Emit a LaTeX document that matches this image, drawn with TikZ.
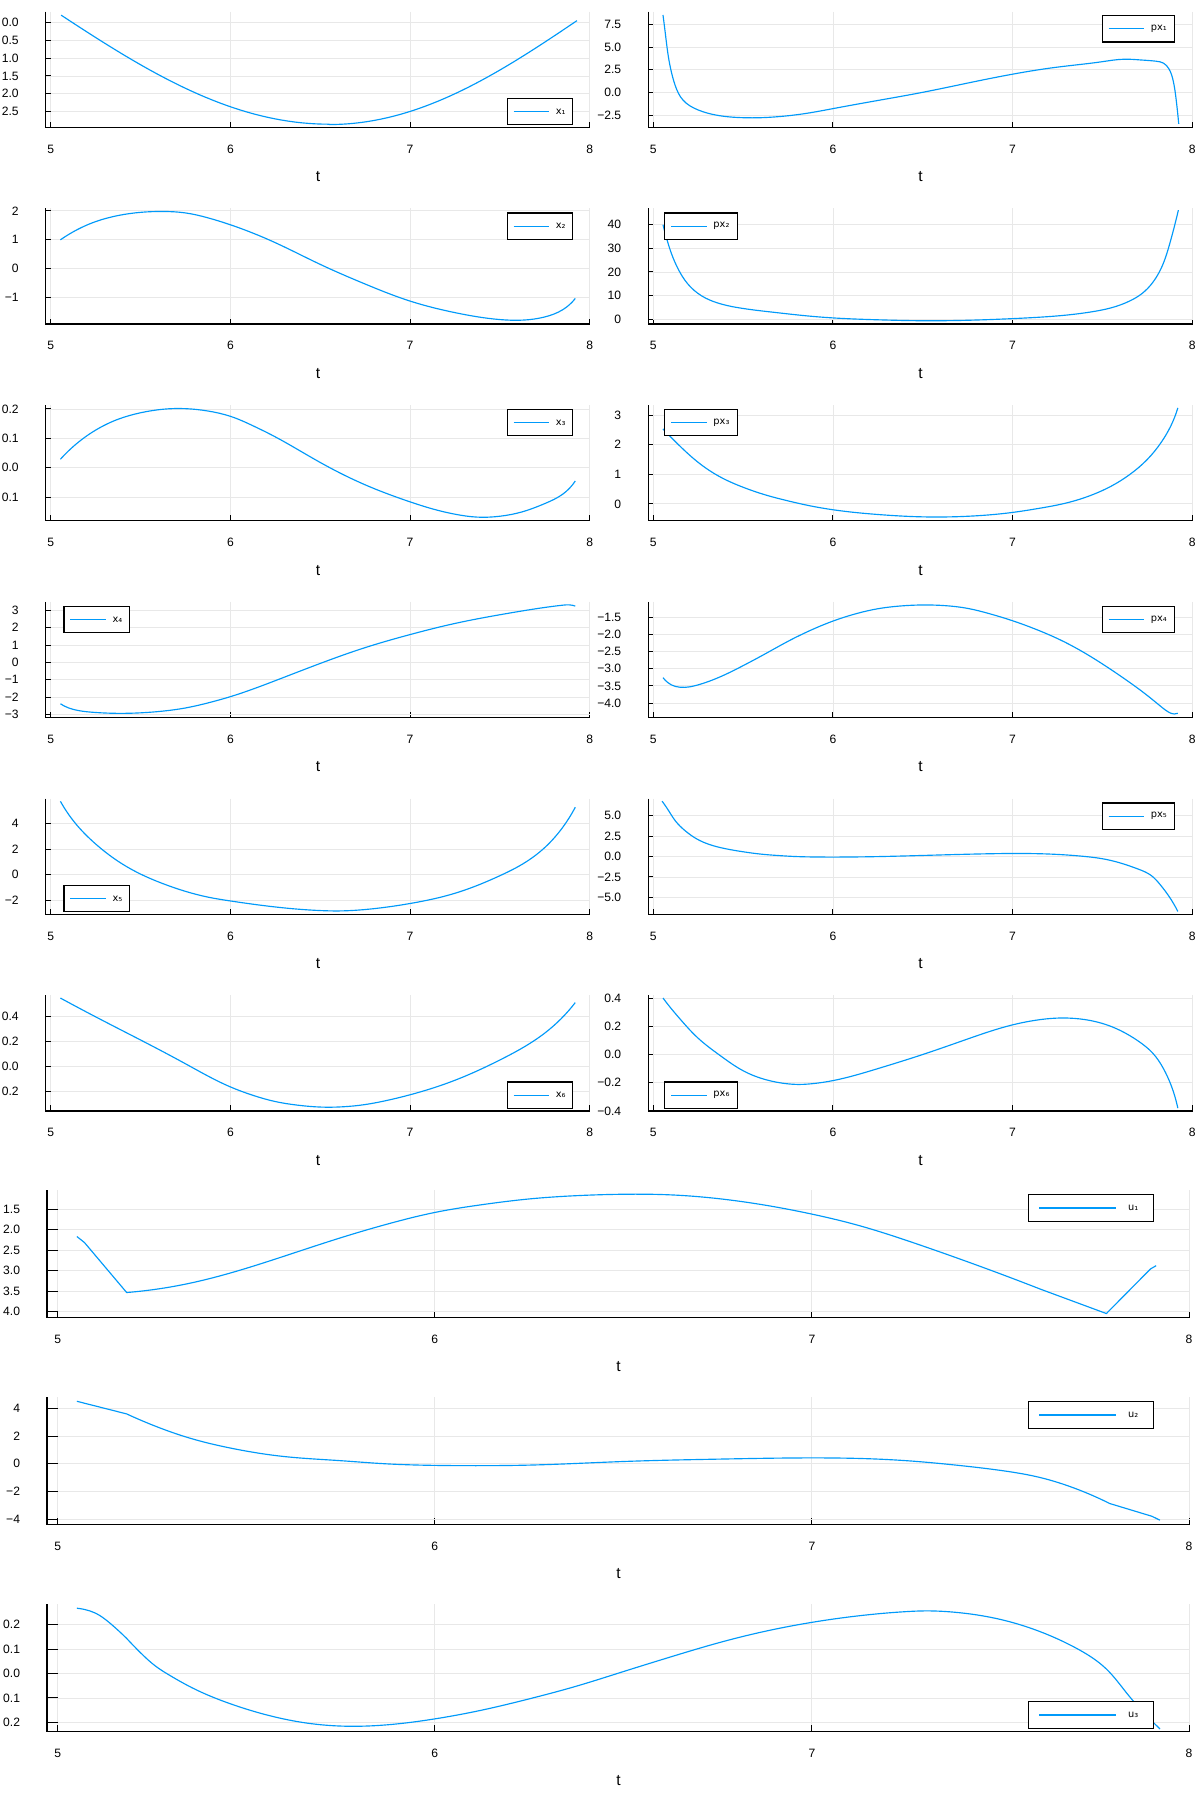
\documentclass[tikz,border=0pt]{standalone}
\usepackage{fontspec}
\setmainfont{Liberation Sans}
\newfontfamily\keyfont{DejaVu Sans}
\usetikzlibrary{hobby}
\definecolor{plotblue}{HTML}{009AFA}

\newcommand{\panel}[8]{%
  \pgfmathsetmacro\frameL{#2-0.028*#3}%
  \pgfmathsetmacro\frameR{#2+3.003*#3}%
  \pgfmathsetmacro\frameB{#4+#5}%
  \pgfmathsetmacro\ytl{0.0092*(\frameR-\frameL)}%
  \pgfmathsetmacro\xtl{0.048*#5}%
  \foreach \tx [count=\i] in {5,...,8} {
    \pgfmathsetmacro\xx{#2+(\tx-5)*#3}
    \draw[gridline] (\xx,#4) -- (\xx,\frameB);
    \draw[tickmark] (\xx,\frameB) -- ++(0,-\xtl);
    \node[ticklabel] (#1-x\i) at (\xx,{\frameB+18.8}) {\tx};
  }
  \foreach \v/\lab [count=\i] in {#8} {
    \pgfmathsetmacro\yy{#6-(\v)*#7}
    \draw[gridline] (\frameL,\yy) -- (\frameR,\yy);
    \draw[tickmark] (\frameL,\yy) -- ++(\ytl,0);
    \node[ticklabel, anchor=east] (#1-y\i) at ({\frameL-23.3},\yy) {\lab};
  }
  \draw[axisline] (\frameL,#4) -- (\frameL,\frameB) -- (\frameR,\frameB);
  \node[guide] (#1-t) at ({(\frameL+\frameR)/2},{\frameB+42.8}) {t};
}

\newcommand{\plotkey}[8]{%
  \node[keybox, minimum width=#4pt, anchor=north west] (#1) at (#2,#3) {};
  \draw[curve] ([xshift=#5pt]#1.west) -- ([xshift=#6pt]#1.west);
  \node[keytext] (#1-text) at ([xshift=#8pt]#1.west) {#7};
}

\begin{document}
\begin{tikzpicture}[x=1pt, y=-1pt,
  every node/.style={inner sep=0pt},
  curve/.style={draw=plotblue, line width=1pt, line join=round},
  gridline/.style={draw=black!9, line width=0.7pt},
  axisline/.style={draw=black, line width=1.1pt},
  tickmark/.style={draw=black, line width=0.8pt},
  ticklabel/.style={font=\fontsize{10.5}{12}\selectfont},
  guide/.style={font=\fontsize{13.5}{16}\selectfont},
  keybox/.style={draw=black, fill=white, line width=1pt, minimum height=22.8pt},
  keytext/.style={anchor=west, font=\keyfont\fontsize{8.5}{10}\selectfont},
  onaxes/.style n args={4}{shift={({#1-5*#2},#3)}, x=#2pt, y=#4pt}]

\path[fill=white, use as bounding box] (0,0) rectangle (1040,1560);

% states and costates
\panel{x1}{44}{155.77}{10.1}{100.3}{19.35}{31.0}{0/0.0, -0.5/0.5, -1/1.0, -1.5/1.5, -2/2.0, -2.5/2.5}
\panel{px1}{566.5}{155.77}{10.1}{100.3}{80.05}{7.86}{7.5/7.5, 5/5.0, 2.5/2.5, 0/0.0, -2.5/−2.5}
\panel{x2}{44}{155.77}{180.7}{100.3}{233.0}{25.06}{2/2, 1/1, 0/0, -1/−1}
\panel{px2}{566.5}{155.77}{180.7}{100.3}{276.7}{2.045}{40/40, 30/30, 20/20, 10/10, 0/0}
\panel{x3}{44}{155.77}{351.3}{100.3}{405.6}{254.9}{0.2/0.2, 0.1/0.1, 0/0.0, -0.1/0.1}
\panel{px3}{566.5}{155.77}{351.3}{100.3}{436.9}{25.67}{3/3, 2/2, 1/1, 0/0}
\panel{x4}{44}{155.77}{521.9}{100.3}{574.4}{15.08}{3/3, 2/2, 1/1, 0/0, -1/−1, -2/−2, -3/−3}
\panel{px4}{566.5}{155.77}{521.9}{100.3}{490.7}{29.73}{-1.5/−1.5, -2/−2.0, -2.5/−2.5, -3/−3.0, -3.5/−3.5, -4/−4.0}
\panel{x5}{44}{155.77}{692.5}{100.3}{758.5}{11.10}{4/4, 2/2, 0/0, -2/−2}
\panel{px5}{566.5}{155.77}{692.5}{100.3}{742.65}{7.10}{5/5.0, 2.5/2.5, 0/0.0, -2.5/−2.5, -5/−5.0}
\panel{x6}{44}{155.77}{863.1}{100.3}{924.6}{108.5}{0.4/0.4, 0.2/0.2, 0/0.0, -0.2/0.2}
\panel{px6}{566.5}{155.77}{863.1}{100.3}{914.4}{122.4}{0.4/0.4, 0.2/0.2, 0/0.0, -0.2/−0.2, -0.4/−0.4}
% controls
\panel{u1}{50}{327}{1032.1}{110.4}{995.3}{35.49}{-1.5/1.5, -2/2.0, -2.5/2.5, -3/3.0, -3.5/3.5, -4/4.0}
\panel{u2}{50}{327}{1211.6}{110.4}{1269.25}{12.03}{4/4, 2/2, 0/0, -2/−2, -4/−4}
\panel{u3}{50}{327}{1391.1}{110.4}{1451.2}{211.4}{0.2/0.2, 0.1/0.1, 0/0.0, -0.1/0.1, -0.2/0.2}

\draw[curve, onaxes={44}{155.77}{19.35}{31.0}] plot[domain=5.058:6.55, samples=40] (\x, {0.46-3.31*cos(deg(\x-6.55))}) -- plot[domain=6.55:7.93, samples=40] (\x, {0.303-3.163*cos(deg(1.08*(\x-6.55)))});
\draw[curve, onaxes={566.5}{155.77}{80.05}{7.86}] plot[hobby] coordinates {(5.054,8.53) (5.07,6.0) (5.085,3.8) (5.1,2.3) (5.122,0.75) (5.165,-0.85) (5.25,-1.95) (5.36,-2.55) (5.5,-2.80) (5.6,-2.80) (5.7,-2.68) (5.85,-2.33) (6.0,-1.80) (6.25,-0.90) (6.5,0.0) (6.75,1.02) (7.0,2.0) (7.25,2.78) (7.5,3.38) (7.62,3.65) (7.72,3.56) (7.8,3.43) (7.84,3.22) (7.87,2.6) (7.895,1.2) (7.91,-0.7) (7.925,-3.49)};
\draw[curve, onaxes={44}{155.77}{233.0}{25.06}] plot[hobby] coordinates {(5.054,1.00) (5.15,1.36) (5.25,1.63) (5.375,1.84) (5.5,1.95) (5.625,1.98) (5.75,1.93) (5.875,1.76) (6.0,1.52) (6.25,0.90) (6.5,0.15) (6.75,-0.53) (7.0,-1.12) (7.25,-1.52) (7.5,-1.76) (7.625,-1.78) (7.75,-1.67) (7.85,-1.42) (7.92,-1.03)};
\draw[curve, onaxes={566.5}{155.77}{276.7}{2.045}] plot[hobby] coordinates {(5.054,40) (5.075,34) (5.1,28) (5.14,21) (5.19,15.1) (5.27,9.8) (5.36,6.8) (5.5,4.5) (5.68,2.8) (5.85,1.4) (6.0,0.5) (6.25,-0.3) (6.5,-0.7) (6.75,-0.5) (7.0,0.2) (7.15,0.8) (7.3,1.7) (7.45,3.2) (7.55,4.8) (7.65,7.6) (7.72,10.8) (7.78,15.5) (7.83,22) (7.875,32) (7.923,46.2)};
\draw[curve, onaxes={44}{155.77}{405.6}{254.9}] plot[hobby] coordinates {(5.054,0.029) (5.125,0.072) (5.25,0.128) (5.375,0.165) (5.5,0.187) (5.625,0.199) (5.75,0.201) (5.875,0.193) (6.0,0.175) (6.125,0.143) (6.25,0.105) (6.375,0.062) (6.5,0.018) (6.75,-0.058) (7.0,-0.116) (7.125,-0.140) (7.25,-0.158) (7.375,-0.168) (7.5,-0.165) (7.625,-0.150) (7.75,-0.122) (7.85,-0.090) (7.92,-0.045)};
\draw[curve, onaxes={566.5}{155.77}{436.9}{25.67}] plot[hobby] coordinates {(5.054,2.53) (5.1,2.24) (5.15,1.94) (5.25,1.40) (5.375,0.90) (5.5,0.56) (5.625,0.30) (5.75,0.10) (5.875,-0.07) (6.0,-0.20) (6.25,-0.36) (6.5,-0.44) (6.75,-0.42) (7.0,-0.29) (7.15,-0.15) (7.3,0.03) (7.45,0.32) (7.55,0.60) (7.65,0.98) (7.75,1.50) (7.83,2.10) (7.88,2.62) (7.92,3.24)};
\draw[curve, onaxes={44}{155.77}{574.4}{15.08}] plot[hobby] coordinates {(5.054,-2.38) (5.1,-2.62) (5.15,-2.76) (5.25,-2.88) (5.375,-2.93) (5.5,-2.90) (5.625,-2.80) (5.75,-2.62) (5.875,-2.33) (6.0,-1.97) (6.25,-1.05) (6.5,-0.06) (6.75,0.85) (7.0,1.60) (7.25,2.24) (7.5,2.74) (7.625,2.96) (7.75,3.16) (7.85,3.29) (7.885,3.31) (7.92,3.24)};
\draw[curve, onaxes={566.5}{155.77}{490.7}{29.73}] plot[hobby] coordinates {(5.054,-3.26) (5.08,-3.40) (5.1,-3.47) (5.15,-3.54) (5.2,-3.53) (5.25,-3.47) (5.375,-3.23) (5.5,-2.91) (5.625,-2.56) (5.75,-2.20) (5.875,-1.88) (6.0,-1.61) (6.125,-1.40) (6.25,-1.25) (6.375,-1.17) (6.5,-1.14) (6.625,-1.16) (6.75,-1.24) (6.875,-1.40) (7.0,-1.60) (7.125,-1.84) (7.25,-2.12) (7.375,-2.46) (7.5,-2.86) (7.625,-3.30) (7.75,-3.78) (7.83,-4.12) (7.87,-4.27) (7.9,-4.32) (7.92,-4.30)};
\draw[curve, onaxes={44}{155.77}{758.5}{11.10}] plot[hobby] coordinates {(5.054,5.73) (5.1,4.70) (5.15,3.80) (5.25,2.40) (5.375,1.05) (5.5,0.05) (5.625,-0.70) (5.75,-1.30) (5.875,-1.75) (6.0,-2.05) (6.25,-2.52) (6.5,-2.80) (6.6,-2.83) (6.75,-2.72) (7.0,-2.25) (7.25,-1.45) (7.5,-0.08) (7.625,0.82) (7.75,2.12) (7.85,3.70) (7.92,5.27)};
\draw[curve, onaxes={566.5}{155.77}{742.65}{7.10}] plot[hobby] coordinates {(5.049,6.75) (5.087,5.53) (5.124,4.31) (5.18,3.09) (5.237,2.20) (5.312,1.46) (5.405,0.93) (5.5,0.57) (5.6,0.28) (5.69,0.12) (5.78,0.0) (5.873,-0.06) (6.0,-0.08) (6.25,-0.02) (6.5,0.12) (6.75,0.27) (7.0,0.36) (7.15,0.33) (7.3,0.18) (7.4,0.0) (7.5,-0.28) (7.6,-0.80) (7.7,-1.55) (7.77,-2.30) (7.82,-3.4) (7.87,-4.85) (7.92,-6.72)};
\draw[curve, onaxes={44}{155.77}{924.6}{108.5}] plot[hobby] coordinates {(5.054,0.545) (5.25,0.395) (5.5,0.210) (5.75,0.020) (6.0,-0.165) (6.125,-0.232) (6.25,-0.282) (6.375,-0.311) (6.5,-0.326) (6.625,-0.324) (6.75,-0.306) (6.875,-0.272) (7.0,-0.228) (7.25,-0.112) (7.5,0.050) (7.75,0.265) (7.92,0.509)};
\draw[curve, onaxes={566.5}{155.77}{914.4}{122.4}] plot[hobby] coordinates {(5.054,0.40) (5.1,0.325) (5.15,0.250) (5.25,0.115) (5.375,-0.010) (5.5,-0.115) (5.625,-0.178) (5.75,-0.208) (5.8,-0.212) (5.875,-0.208) (6.0,-0.185) (6.25,-0.10) (6.5,0.0) (6.75,0.11) (7.0,0.210) (7.125,0.242) (7.25,0.258) (7.375,0.252) (7.5,0.220) (7.6,0.170) (7.7,0.095) (7.78,0.01) (7.84,-0.10) (7.88,-0.21) (7.92,-0.38)};
\draw[curve, onaxes={50}{327}{995.3}{35.49}] (5.051,-2.168) -- (5.071,-2.314) -- (5.183,-3.536) -- plot[hobby] coordinates {(5.183,-3.536) (5.25,-3.47) (5.35,-3.31) (5.45,-3.08) (5.6,-2.65) (5.75,-2.20) (5.9,-1.80) (6.0,-1.58) (6.125,-1.39) (6.25,-1.25) (6.375,-1.17) (6.5,-1.135) (6.625,-1.15) (6.75,-1.24) (6.875,-1.40) (7.0,-1.62) (7.125,-1.90) (7.25,-2.26) (7.375,-2.66) (7.5,-3.08) (7.605,-3.45)} -- (7.781,-4.05) -- (7.898,-2.96) -- (7.913,-2.88);
\draw[curve, onaxes={50}{327}{1269.25}{12.03}] (5.051,4.50) -- (5.183,3.59) -- plot[hobby] coordinates {(5.183,3.59) (5.255,2.75) (5.356,1.80) (5.458,1.13) (5.6,0.52) (5.75,0.22) (5.866,0.0) (6.0,-0.12) (6.125,-0.14) (6.25,-0.10) (6.5,0.16) (6.75,0.33) (7.0,0.42) (7.125,0.38) (7.25,0.22) (7.375,-0.08) (7.5,-0.48) (7.6,-0.96) (7.7,-1.80) (7.79,-2.87)} -- (7.902,-3.79) -- (7.923,-4.07);
\draw[curve, onaxes={50}{327}{1451.2}{211.4}] plot[hobby] coordinates {(5.051,0.268) (5.071,0.263) (5.1,0.248) (5.14,0.205) (5.183,0.144)} -- plot[hobby] coordinates {(5.183,0.144) (5.22,0.085) (5.26,0.030) (5.3,-0.010) (5.356,-0.058) (5.458,-0.124) (5.56,-0.172) (5.66,-0.203) (5.764,-0.216) (5.85,-0.213) (6.0,-0.186) (6.125,-0.150) (6.25,-0.104) (6.375,-0.052) (6.5,0.008) (6.625,0.068) (6.75,0.125) (6.875,0.173) (7.0,0.210) (7.125,0.237) (7.25,0.254) (7.3,0.257) (7.375,0.252) (7.5,0.222) (7.6,0.175) (7.7,0.105) (7.78,0.02) (7.84,-0.09) (7.88,-0.16) (7.923,-0.227)};

\plotkey{x1-key}{439.3}{84.8}{57}{6}{37}{x₁}{42.5}
\plotkey{px1-key}{955.3}{13.1}{63}{6}{37}{px₁}{42.5}
\plotkey{x2-key}{439.3}{184.2}{57}{6}{37}{x₂}{42.5}
\plotkey{px2-key}{576}{184.2}{63}{6}{37}{px₂}{42.5}
\plotkey{x3-key}{439.3}{354.6}{57}{6}{37}{x₃}{42.5}
\plotkey{px3-key}{576}{354.6}{63}{6}{37}{px₃}{42.5}
\plotkey{x4-key}{55}{525.2}{57}{6}{37}{x₄}{42.5}
\plotkey{px4-key}{955.3}{525.2}{63}{6}{37}{px₄}{42.5}
\plotkey{x5-key}{55}{767.2}{57}{6}{37}{x₅}{42.5}
\plotkey{px5-key}{955.3}{695.8}{63}{6}{37}{px₅}{42.5}
\plotkey{x6-key}{439.3}{937.8}{57}{6}{37}{x₆}{42.5}
\plotkey{px6-key}{576}{937.8}{63}{6}{37}{px₆}{42.5}
\plotkey{u1-key}{891}{1035.6}{108.5}{10}{77}{u₁}{87}
\plotkey{u2-key}{891}{1215.1}{108.5}{10}{77}{u₂}{87}
\plotkey{u3-key}{891}{1475.2}{108.5}{10}{77}{u₃}{87}
\end{tikzpicture}
\end{document}
